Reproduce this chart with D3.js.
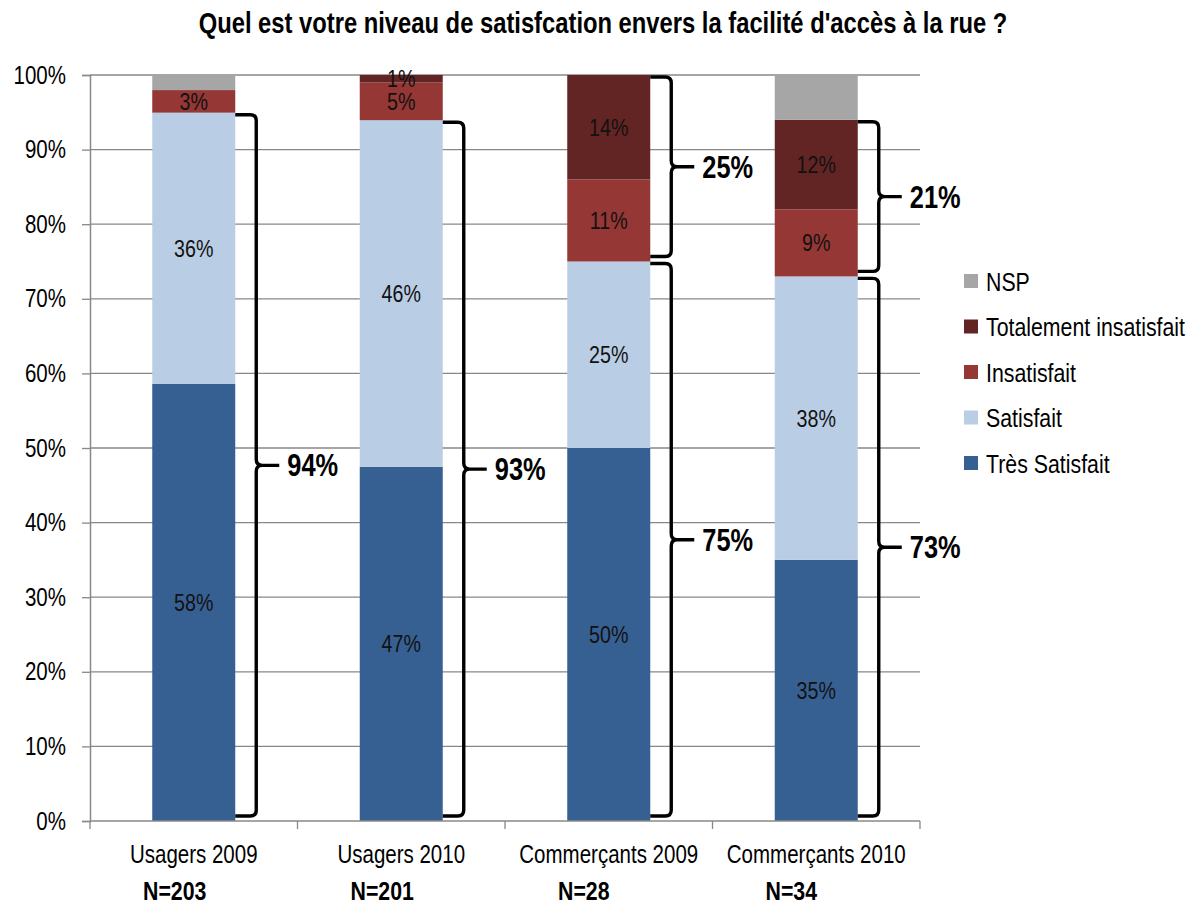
<!DOCTYPE html>
<html>
<head>
<meta charset="utf-8">
<script src="https://cdn.jsdelivr.net/npm/d3@7"></script>
<style>
  html, body { margin: 0; padding: 0; background: #fff; }
  svg { display: block; }
  text { font-family: "Liberation Sans", Arial, sans-serif; }
</style>
</head>
<body>
<svg id="chart" width="1193" height="907"></svg>
<script>
// Survey groups and sample sizes
const categories = ["Usagers 2009", "Usagers 2010", "Commerçants 2009", "Commerçants 2010"];
const sampleSizes = ["N=203", "N=201", "N=28", "N=34"];

// Answer shares (%) per group, bottom to top of each stack
const tresSatisfait = [58, 47, 50, 35];
const satisfait = [36, 46, 25, 38];
const insatisfait = [3, 5, 11, 9];
const totalementInsatisfait = [0, 1, 14, 12];
const nsp = [2, 0, 0, 6];

const seriesNames = ["Très Satisfait", "Satisfait", "Insatisfait", "Totalement insatisfait", "NSP"];
const seriesValues = [tresSatisfait, satisfait, insatisfait, totalementInsatisfait, nsp];
const seriesColors = ["#376092", "#B9CDE5", "#953735", "#632523", "#A6A6A6"];
const labelledSeries = ["Très Satisfait", "Satisfait", "Insatisfait", "Totalement insatisfait"];

// Groups bracketed on the right: [category, series covered]
const satisfiedBrackets = [
  [0, ["Très Satisfait", "Satisfait"]],
  [1, ["Très Satisfait", "Satisfait"]],
  [2, ["Très Satisfait", "Satisfait"]],
  [3, ["Très Satisfait", "Satisfait"]]
];
const unsatisfiedBrackets = [
  [2, ["Insatisfait", "Totalement insatisfait"]],
  [3, ["Insatisfait", "Totalement insatisfait"]]
];

const yTicks = [0, 0.1, 0.2, 0.3, 0.4, 0.5, 0.6, 0.7, 0.8, 0.9, 1.0];

const rows = categories.map((c, i) => {
  const r = { cat: c };
  seriesNames.forEach((s, k) => r[s] = seriesValues[k][i]);
  return r;
});

const stack = d3.stack().keys(seriesNames).offset(d3.stackOffsetExpand);
const stacked = stack(rows);

const svg = d3.select("#chart");
const plotLeft = 90, plotRight = 920, plotTop = 75, plotBottom = 821;
const axisColor = "#888888";
const NARROW = 0.82; // horizontal squeeze giving a narrow sans face

// Narrow text helper: anchored at (x, y) baseline, squeezed horizontally
function narrowText(parent, x, y, str, opts = {}) {
  return parent.append("text")
    .attr("transform", `translate(${x},${y}) scale(${NARROW},1)`)
    .attr("text-anchor", opts.anchor || "start")
    .attr("font-size", opts.size || 24)
    .attr("font-weight", opts.weight || "normal")
    .attr("fill", opts.fill || "#000")
    .text(str);
}

const x = d3.scaleBand().domain(categories).range([plotLeft, plotRight]).paddingInner(0.6).paddingOuter(0.3);
const y = d3.scaleLinear().domain([0, 1]).range([plotBottom, plotTop]);
const pct = d3.format(".0%");

// Title
narrowText(svg, 603, 33, "Quel est votre niveau de satisfcation envers la facilité d'accès à la rue ?",
  { anchor: "middle", size: 29, weight: "bold" });

// Horizontal gridlines
svg.append("g").selectAll("line").data(yTicks.slice(1)).join("line")
  .attr("x1", plotLeft).attr("x2", plotRight)
  .attr("y1", d => y(d)).attr("y2", d => y(d))
  .attr("stroke", axisColor).attr("stroke-width", 1.3);

// Y axis line and ticks
const yAxis = svg.append("g").attr("transform", `translate(${plotLeft},0)`)
  .call(d3.axisLeft(y).tickValues(yTicks).tickFormat("").tickSize(8));
yAxis.select(".domain").attr("stroke", axisColor).attr("stroke-width", 1.5);
yAxis.selectAll(".tick line").attr("stroke", axisColor).attr("stroke-width", 1.3);
const yLabels = svg.append("g");
yTicks.forEach(t => narrowText(yLabels, 66, y(t) + 8.5, pct(t), { anchor: "end", size: 25 }));

// Stacked bars
const layers = svg.append("g").selectAll("g").data(stacked).join("g")
  .attr("fill", (d, i) => seriesColors[i]);
layers.selectAll("rect").data(d => d).join("rect")
  .attr("x", d => x(d.data.cat))
  .attr("width", x.bandwidth())
  .attr("y", d => y(d[1]))
  .attr("height", d => Math.max(0, y(d[0]) - y(d[1])));

// Segment value labels
const segLabels = svg.append("g");
stacked.forEach((layer, k) => {
  const name = seriesNames[k];
  if (!labelledSeries.includes(name)) return;
  layer.filter(d => d.data[name] > 0).forEach(d => {
    narrowText(segLabels, x(d.data.cat) + x.bandwidth() / 2, (y(d[0]) + y(d[1])) / 2 + 8.5,
      d.data[name] + "%", { anchor: "middle", size: 24, fill: "#111" });
  });
});

// X axis
svg.append("line").attr("x1", plotLeft).attr("x2", plotRight).attr("y1", plotBottom).attr("y2", plotBottom)
  .attr("stroke", axisColor).attr("stroke-width", 1.5);
const step = x.step();
const boundaries = d3.range(categories.length + 1).map(i => plotLeft + i * step);
svg.append("g").selectAll("line").data(boundaries).join("line")
  .attr("x1", d => d).attr("x2", d => d)
  .attr("y1", plotBottom).attr("y2", plotBottom + 8)
  .attr("stroke", axisColor).attr("stroke-width", 1.3);

const catLabels = svg.append("g");
categories.forEach(c => narrowText(catLabels, x(c) + x.bandwidth() / 2, 863, c, { anchor: "middle", size: 25 }));

const nLabels = svg.append("g");
sampleSizes.forEach((n, i) => narrowText(nLabels, boundaries[i] + 53, 900, n, { size: 26, weight: "bold" }));

// Curly brackets summarising groups of answers
function bracketPath(x0, yTop, yBot) {
  const xv = x0 + 21, tip = xv + 23, r = 6;
  const ym = (yTop + yBot) / 2;
  return `M${x0},${yTop} H${xv - r} Q${xv},${yTop} ${xv},${yTop + r}` +
    ` V${ym - r} Q${xv},${ym} ${xv + r},${ym} H${tip}` +
    ` M${xv + r},${ym} Q${xv},${ym} ${xv},${ym + r}` +
    ` V${yBot - r} Q${xv},${yBot} ${xv - r},${yBot} H${x0}`;
}

const brackets = svg.append("g");
function drawBracket(ci, keys) {
  const row = rows[ci];
  const total = d3.sum(seriesNames, s => row[s]);
  const idx = keys.map(k => seriesNames.indexOf(k));
  const lo = d3.min(idx), hi = d3.max(idx);
  const from = d3.sum(seriesNames.slice(0, lo), s => row[s]) / total;
  const to = d3.sum(seriesNames.slice(0, hi + 1), s => row[s]) / total;
  const value = d3.sum(keys, k => row[k]);
  const x0 = x(categories[ci]) + x.bandwidth();
  const yTop = y(to) + 2, yBot = y(from) - 5;
  brackets.append("path")
    .attr("d", bracketPath(x0, yTop, yBot))
    .attr("fill", "none").attr("stroke", "#000").attr("stroke-width", 3.4)
    .attr("stroke-linejoin", "round");
  narrowText(brackets, x0 + 52, (yTop + yBot) / 2 + 11, value + "%", { size: 31, weight: "bold" });
}
satisfiedBrackets.forEach(([ci, keys]) => drawBracket(ci, keys));
unsatisfiedBrackets.forEach(([ci, keys]) => drawBracket(ci, keys));

// Legend (top entry is NSP)
const legendOrder = seriesNames.slice().reverse();
const legend = svg.append("g").attr("transform", "translate(964,281)");
legendOrder.forEach((name, i) => {
  const g = legend.append("g").attr("transform", `translate(0,${i * 45.5})`);
  g.append("rect").attr("x", 0).attr("y", -7).attr("width", 14).attr("height", 14)
    .attr("fill", seriesColors[seriesNames.indexOf(name)]);
  narrowText(g, 22, 9.5, name, { size: 26 });
});
</script>
</body>
</html>
